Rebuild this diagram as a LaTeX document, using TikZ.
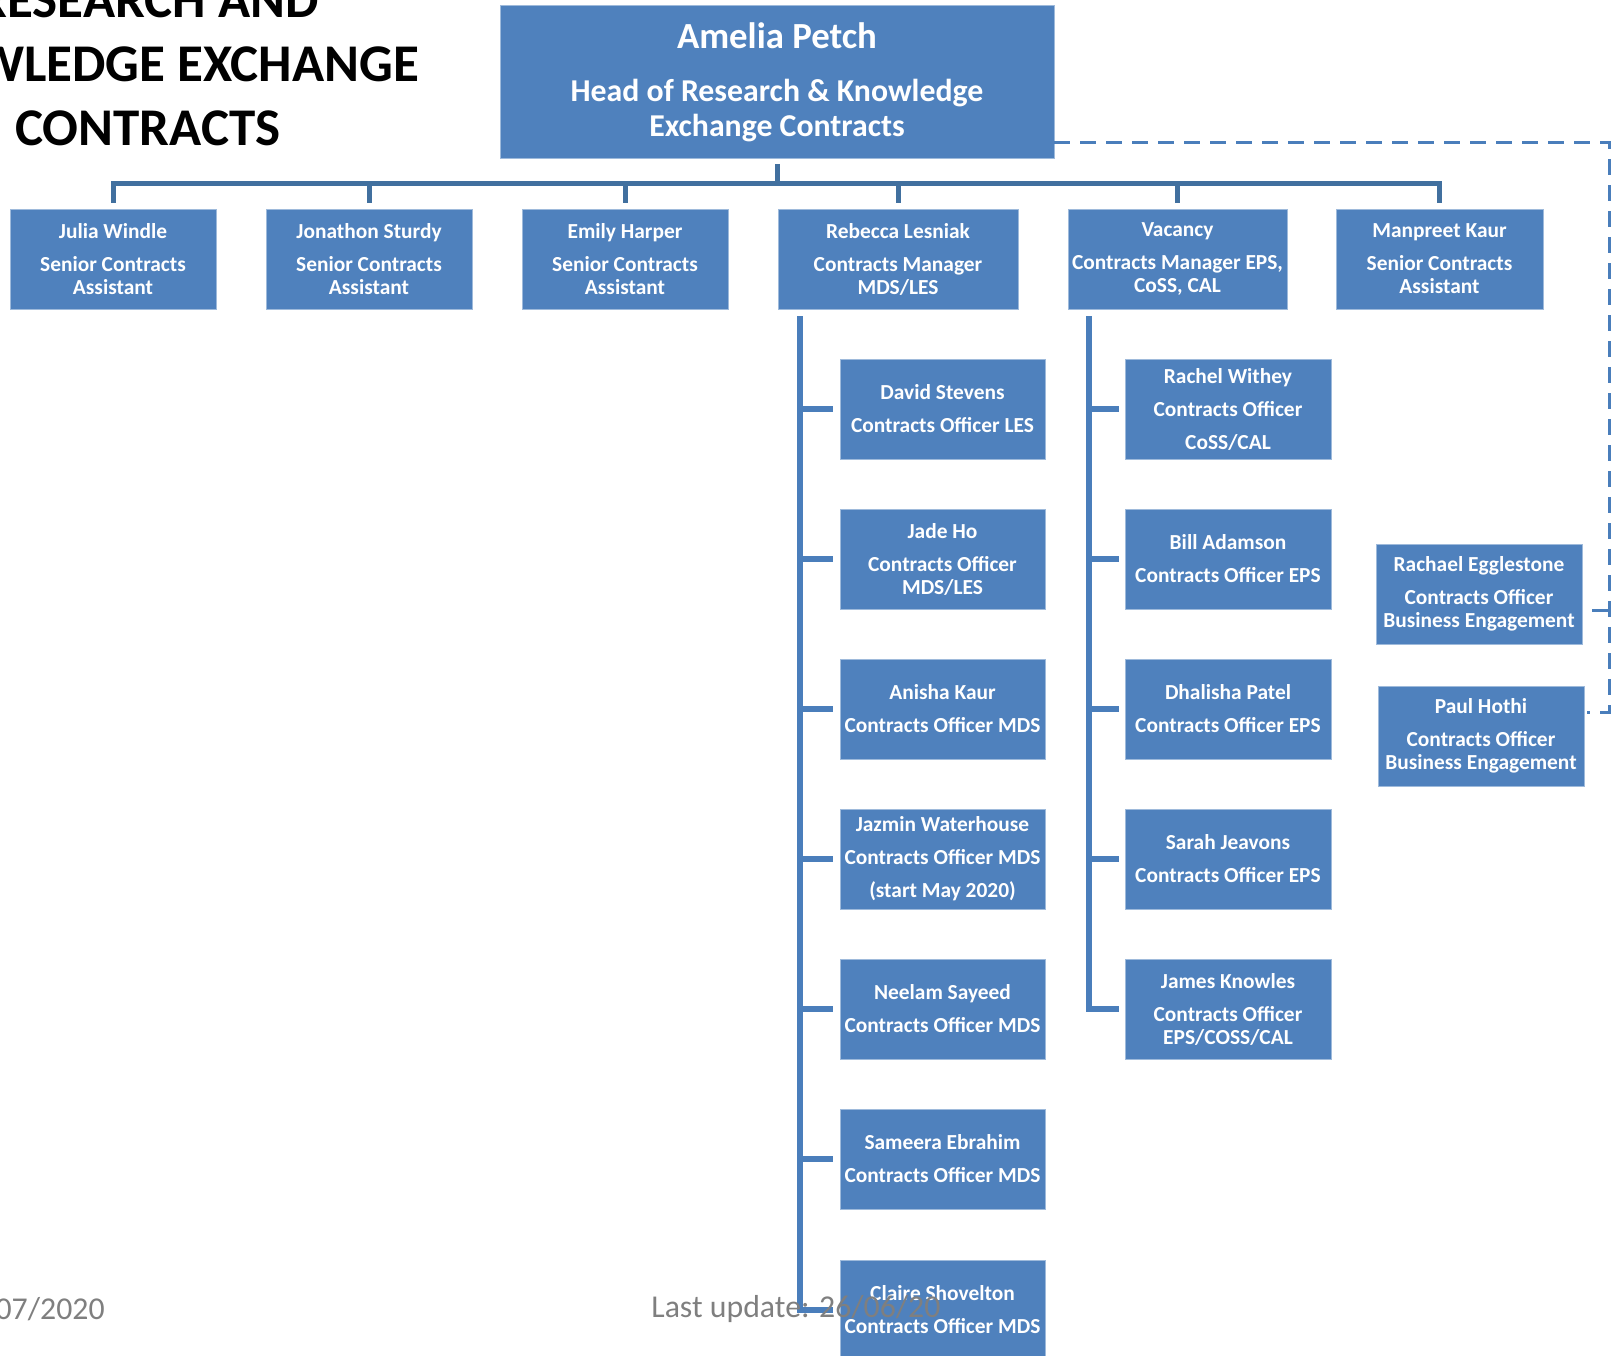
\documentclass[tikz,border=0pt]{standalone}
\usepackage{fontspec}
\setmainfont{Carlito}
\usetikzlibrary{positioning}
\definecolor{boxblue}{HTML}{4F81BD}
\definecolor{linkblue}{HTML}{4A7EBB}
\definecolor{busblue}{HTML}{41709F}
\definecolor{footgray}{HTML}{7F7F7F}
\newcommand{\staff}[2]{#1\\[5pt]#2}
\begin{document}
\begin{tikzpicture}[x=0.5pt, y=-0.5pt,
	box/.style={fill=boxblue, draw=boxblue!55!white, line width=0.4pt, text=white, align=center, inner sep=1pt,
		font=\bfseries\fontsize{10.7}{11.5}\selectfont, minimum width=103pt, minimum height=50pt},
	bus/.style={draw=busblue, line width=2.5pt},
	col/.style={draw=linkblue, line width=3pt},
	dashline/.style={draw=linkblue, line width=1.5pt, dash pattern=on 8pt off 5pt},
	foot/.style={text=footgray, inner sep=0pt, font=\fontsize{15.9}{19}\selectfont}]
	\def\colA{942.5} \def\colB{1228} % columns under the two managers
	\useasboundingbox (0,0) rectangle (1612,1355);
	\clip (0,0) rectangle (1612,1355);
	
	\node[font=\bfseries\fontsize{26.5}{32}\selectfont, align=center] (title) at (148,64) {RESEARCH AND\\KNOWLEDGE EXCHANGE\\CONTRACTS};
	
	\node[box, minimum width=277pt, minimum height=76.5pt, font=\bfseries\fontsize{15.9}{17.5}\selectfont] (head) at (777,82)
		{{\fontsize{18.4}{22}\selectfont Amelia Petch}\\[9pt]Head of Research \& Knowledge\\Exchange Contracts};
	
	\node[box] (julia) at (113,259) {\staff{Julia Windle}{Senior Contracts\\Assistant}};
	\node[box] (jonathon) at (369,259) {\staff{Jonathon Sturdy}{Senior Contracts\\Assistant}};
	\node[box] (emily) at (625,259) {\staff{Emily Harper}{Senior Contracts\\Assistant}};
	\node[box, minimum width=120pt] (rebecca) at (898,259) {\staff{Rebecca Lesniak}{Contracts Manager\\MDS/LES}};
	\node[box, minimum width=109.5pt] (vacancy) at (1177.5,259) {\staff{Vacancy}{Contracts Manager EPS,\\CoSS, CAL}};
	\node[box, minimum width=103.5pt] (manpreet) at (1439.5,259) {\staff{Manpreet Kaur}{Senior Contracts\\Assistant}};
	
	\node[box, minimum width=102.5pt] (david) at (\colA,409) {\staff{David Stevens}{Contracts Officer LES}};
	\node[box, minimum width=102.5pt] (jade) at (\colA,559) {\staff{Jade Ho}{Contracts Officer\\MDS/LES}};
	\node[box, minimum width=102.5pt] (anisha) at (\colA,709) {\staff{Anisha Kaur}{Contracts Officer MDS}};
	\node[box, minimum width=102.5pt] (jazmin) at (\colA,859) {\staff{Jazmin Waterhouse}{Contracts Officer MDS\\[5pt](start May 2020)}};
	\node[box, minimum width=102.5pt] (neelam) at (\colA,1009) {\staff{Neelam Sayeed}{Contracts Officer MDS}};
	\node[box, minimum width=102.5pt] (sameera) at (\colA,1159) {\staff{Sameera Ebrahim}{Contracts Officer MDS}};
	\node[box, minimum width=102.5pt] (claire) at (\colA,1310) {\staff{Claire Shovelton}{Contracts Officer MDS}};
	
	\node[box] (rachel) at (\colB,409) {\staff{Rachel Withey}{Contracts Officer\\[5pt]CoSS/CAL}};
	\node[box] (bill) at (\colB,559) {\staff{Bill Adamson}{Contracts Officer EPS}};
	\node[box] (dhalisha) at (\colB,709) {\staff{Dhalisha Patel}{Contracts Officer EPS}};
	\node[box] (sarah) at (\colB,859) {\staff{Sarah Jeavons}{Contracts Officer EPS}};
	\node[box] (james) at (\colB,1009) {\staff{James Knowles}{Contracts Officer\\EPS/COSS/CAL}};
	
	\node[box] (egg) at (1479,594) {\staff{Rachael Egglestone}{Contracts Officer\\Business Engagement}};
	\node[box] (paul) at (1481,736) {\staff{Paul Hothi}{Contracts Officer\\Business Engagement}};
	
	% head to first row
	\coordinate (bus) at (777,183);
	\draw[bus, shorten <=2.5pt] (head.south) -- (head.south |- bus);
	\draw[bus, shorten <=3pt, shorten >=3pt] (julia.north) -- (julia.north |- bus) -- (manpreet.north |- bus) -- (manpreet.north);
	\foreach \n in {jonathon,emily,rebecca,vacancy}
		\draw[bus, shorten <=3pt] (\n.north) -- (\n.north |- bus);
	
	% the two managers' columns
	\coordinate (rl) at ([xshift=11pt]rebecca.south west);
	\draw[col, shorten <=3.5pt, shorten >=3.5pt] (rl) |- (claire.west);
	\foreach \n in {david,jade,anisha,jazmin,neelam,sameera}
		\draw[col, shorten >=3.5pt] (rl |- \n.west) -- (\n.west);
	\coordinate (vl) at ([xshift=10.5pt]vacancy.south west);
	\draw[col, shorten <=3.5pt, shorten >=3pt] (vl) |- (james.west);
	\foreach \n in {rachel,bill,dhalisha,sarah}
		\draw[col, shorten >=3pt] (vl |- \n.west) -- (\n.west);
	
	% dotted-line reports
	\coordinate (dtop) at (1609,142);
	\coordinate (dmid) at (1609,610);
	\coordinate (dbot) at (1609,712);
	\draw[dashline, shorten >=1.5pt] (head.east |- dtop) -- (dtop) -- (dbot) -- (paul.east |- dbot);
	\draw[dashline, shorten <=5pt] (egg.east |- dmid) -- (dmid);
	
	\node[foot, anchor=east] (date) at (105,1309) {07/2020};
	\node[foot, anchor=west] (update) at (651,1309) {Last update: 26/06/20};
\end{tikzpicture}
\end{document}
